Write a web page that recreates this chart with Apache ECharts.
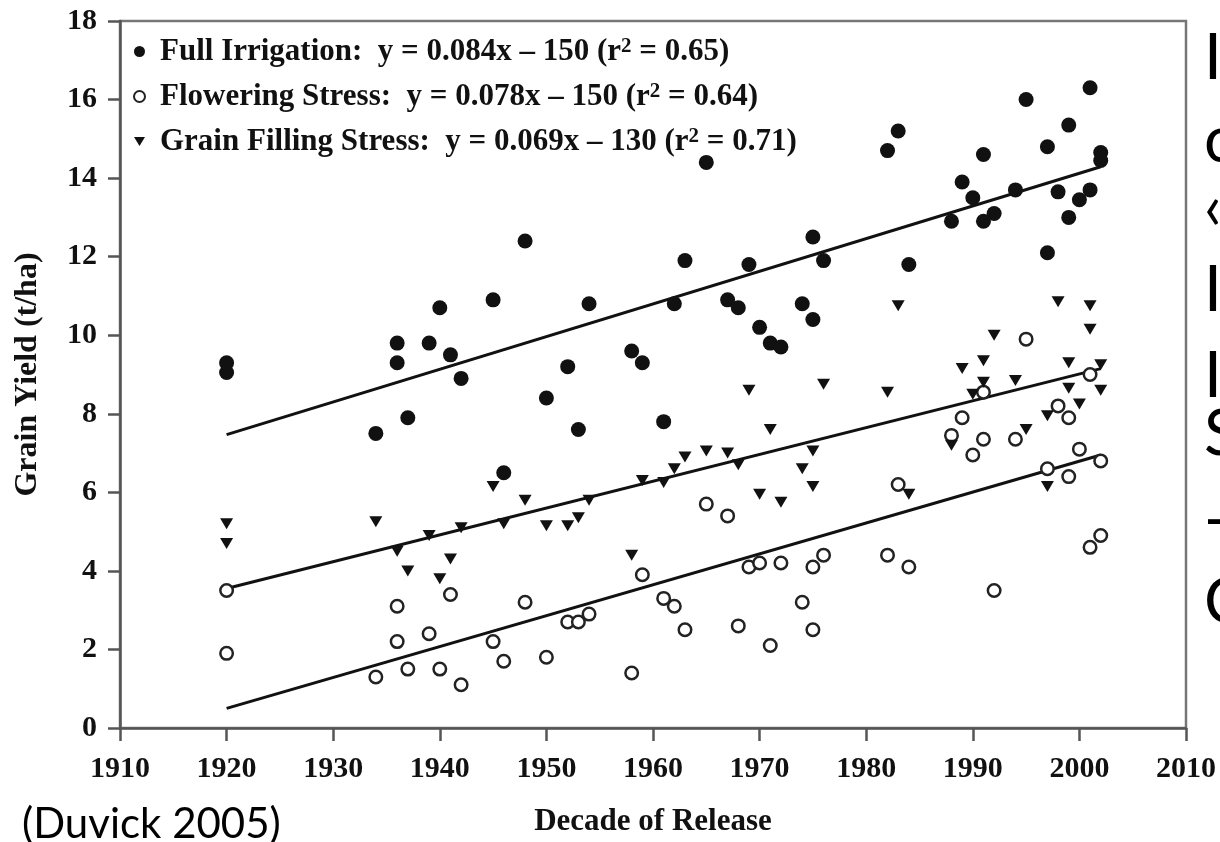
<!DOCTYPE html>
<html>
<head>
<meta charset="utf-8">
<script src="https://cdn.jsdelivr.net/npm/echarts@6/dist/echarts.min.js"></script>
<style>
  html, body { margin: 0; padding: 0; background: #fff; }
  #page { position: relative; width: 1220px; height: 842px; overflow: hidden; background: #fff; }
  #chart { position: absolute; left: 0; top: 0; width: 1220px; height: 842px; filter: blur(0.5px); }
  .note { position: absolute; font-family: Lato, sans-serif; color: #000; white-space: nowrap; }
  .cite { left: 22px; top: 801px; font-size: 42px; line-height: 42px; }
  .edge { left: 1204px; font-size: 64px; line-height: 64px; }
</style>
</head>
<body>
<div id="page">
  <div id="chart"></div>
  <div class="note cite">(Duvick 2005)</div>
  <div class="note edge" style="top:23px">I</div>
  <div class="note edge" style="top:106px">c</div>
  <div class="note edge" style="top:173px">&#8249;</div>
  <div class="note edge" style="top:255px">I</div>
  <div class="note edge" style="top:341px">I</div>
  <div class="note edge" style="top:399px">S</div>
  <div class="note edge" style="top:485px">-</div>
  <div class="note edge" style="top:567px">C</div>
</div>
<script>
// Hybrid release year and grain yield (t/ha) under three water regimes
const fullYears  = [1920, 1920, 1934, 1936, 1936, 1937, 1939, 1940, 1941, 1942, 1945, 1946, 1948, 1950, 1952, 1953, 1954, 1958, 1959, 1961, 1962, 1963, 1965, 1967, 1968, 1969, 1970, 1971, 1972, 1974, 1975, 1975, 1976, 1982, 1983, 1984, 1988, 1989, 1990, 1991, 1991, 1992, 1994, 1995, 1997, 1997, 1998, 1999, 1999, 2000, 2001, 2001, 2002, 2002];
const fullYield  = [9.3, 9.05, 7.5, 9.8, 9.3, 7.9, 9.8, 10.7, 9.5, 8.9, 10.9, 6.5, 12.4, 8.4, 9.2, 7.6, 10.8, 9.6, 9.3, 7.8, 10.8, 11.9, 14.4, 10.9, 10.7, 11.8, 10.2, 9.8, 9.7, 10.8, 12.5, 10.4, 11.9, 14.7, 15.2, 11.8, 12.9, 13.9, 13.5, 14.6, 12.9, 13.1, 13.7, 16.0, 14.8, 12.1, 13.65, 15.35, 13.0, 13.45, 16.3, 13.7, 14.65, 14.45];

const flowerYears = [1920, 1920, 1934, 1936, 1936, 1937, 1939, 1940, 1941, 1942, 1945, 1946, 1948, 1950, 1952, 1953, 1954, 1958, 1959, 1961, 1962, 1963, 1965, 1967, 1968, 1969, 1970, 1971, 1972, 1974, 1975, 1975, 1976, 1982, 1983, 1984, 1988, 1989, 1990, 1991, 1991, 1992, 1994, 1995, 1997, 1998, 1999, 1999, 2000, 2001, 2001, 2002, 2002];
const flowerYield = [3.5, 1.9, 1.3, 3.1, 2.2, 1.5, 2.4, 1.5, 3.4, 1.1, 2.2, 1.7, 3.2, 1.8, 2.7, 2.7, 2.9, 1.4, 3.9, 3.3, 3.1, 2.5, 5.7, 5.4, 2.6, 4.1, 4.2, 2.1, 4.2, 3.2, 4.1, 2.5, 4.4, 4.4, 6.2, 4.1, 7.45, 7.9, 6.95, 8.55, 7.35, 3.5, 7.35, 9.9, 6.6, 8.2, 7.9, 6.4, 7.1, 9.0, 4.6, 6.8, 4.9];

const grainYears = [1920, 1920, 1934, 1936, 1937, 1939, 1940, 1941, 1942, 1945, 1946, 1948, 1950, 1952, 1953, 1954, 1958, 1959, 1961, 1962, 1963, 1965, 1967, 1968, 1969, 1970, 1971, 1972, 1974, 1975, 1975, 1976, 1982, 1983, 1984, 1988, 1989, 1990, 1991, 1991, 1992, 1994, 1995, 1997, 1997, 1998, 1999, 1999, 2000, 2001, 2001, 2002, 2002];
const grainYield = [5.2, 4.7, 5.25, 4.5, 4.0, 4.9, 3.8, 4.3, 5.1, 6.15, 5.2, 5.8, 5.15, 5.15, 5.35, 5.8, 4.4, 6.3, 6.25, 6.6, 6.9, 7.05, 7.0, 6.7, 8.6, 5.95, 7.6, 5.75, 6.6, 7.05, 6.15, 8.75, 8.55, 10.75, 5.95, 7.2, 9.15, 8.5, 9.35, 8.8, 10.0, 8.85, 7.6, 7.95, 6.15, 10.85, 9.3, 8.65, 8.25, 10.75, 10.15, 9.25, 8.6];

// Fitted trend lines: start and end release year, and the fitted yields there
const trendYears  = [1920, 2002];
const fullTrend   = [7.47, 14.29];
const flowerTrend = [0.5, 6.95];
const grainTrend  = [3.55, 9.15];

const seriesNames = [
  'Full Irrigation:  y = 0.084x \u2013 150 (r\u00B2 = 0.65)',
  'Flowering Stress:  y = 0.078x \u2013 150 (r\u00B2 = 0.64)',
  'Grain Filling Stress:  y = 0.069x \u2013 130 (r\u00B2 = 0.71)'
];

const xMin = 1910, xMax = 2010, xStep = 10;
const yMin = 0, yMax = 18, yStep = 2;

const zip = (xs, ys) => xs.map((x, i) => [x, ys[i]]);

const serif = 'Liberation Serif';
const ink = '#111';
const axisGrey = '#555';
// downward-pointing triangle
const triDown = 'path://M0,0 L12,0 L6,10 Z';

const trendSeries = (vals) => ({
  type: 'line',
  data: zip(trendYears, vals),
  showSymbol: false,
  symbol: 'none',
  silent: true,
  z: 1,
  lineStyle: { color: ink, width: 3 }
});

const chart = echarts.init(document.getElementById('chart'), null, { renderer: 'canvas' });

chart.setOption({
  animation: false,
  backgroundColor: '#fff',
  grid: {
    left: 120, top: 21, width: 1066, height: 712,
    show: true, borderColor: '#777', borderWidth: 2.5, backgroundColor: 'transparent'
  },
  legend: {
    data: seriesNames,
    orient: 'vertical',
    left: 128, top: 31,
    itemWidth: 11, itemHeight: 11,
    itemGap: 14,
    selectedMode: false,
    formatter: name => name.replace('\u00B2', '{s|2}'),
    textStyle: {
      fontFamily: serif, fontWeight: 'bold', fontSize: 31, color: ink,
      lineHeight: 31, padding: [0, 0, 0, 10],
      rich: {
        s: { fontFamily: serif, fontWeight: 'bold', fontSize: 21, color: ink,
             lineHeight: 21, verticalAlign: 'top' }
      }
    }
  },
  xAxis: {
    type: 'value', min: xMin, max: xMax, interval: xStep,
    name: 'Decade of Release', nameLocation: 'middle', nameGap: 78,
    nameTextStyle: { fontFamily: serif, fontWeight: 'bold', fontSize: 31, color: ink },
    axisLine: { show: true, onZero: false, lineStyle: { color: axisGrey, width: 2.5 } },
    axisTick: { show: true, inside: false, length: 13, lineStyle: { color: axisGrey, width: 2.5 } },
    axisLabel: { margin: 26, fontFamily: serif, fontWeight: 'bold', fontSize: 30, color: ink,
                 formatter: v => String(v) },
    splitLine: { show: false }
  },
  yAxis: {
    type: 'value', min: yMin, max: yMax, interval: yStep,
    name: 'Grain Yield (t/ha)', nameLocation: 'middle', nameGap: 76, nameRotate: 90,
    nameTextStyle: { fontFamily: serif, fontWeight: 'bold', fontSize: 32, color: ink },
    axisLine: { show: true, onZero: false, lineStyle: { color: axisGrey, width: 2.5 } },
    axisTick: { show: true, inside: false, length: 12, lineStyle: { color: axisGrey, width: 2.5 } },
    axisLabel: { margin: 23, fontFamily: serif, fontWeight: 'bold', fontSize: 30, color: ink,
                 formatter: v => String(v) },
    splitLine: { show: false }
  },
  series: [
    trendSeries(fullTrend),
    trendSeries(flowerTrend),
    trendSeries(grainTrend),
    {
      name: seriesNames[0], type: 'scatter', z: 3,
      data: zip(fullYears, fullYield),
      symbol: 'circle', symbolSize: 15,
      itemStyle: { color: ink, opacity: 1 }
    },
    {
      name: seriesNames[1], type: 'scatter', z: 3,
      data: zip(flowerYears, flowerYield),
      symbol: 'circle', symbolSize: 12.5,
      itemStyle: { color: '#fff', borderColor: '#222', borderWidth: 2.5, opacity: 1 }
    },
    {
      name: seriesNames[2], type: 'scatter', z: 3,
      data: zip(grainYears, grainYield),
      symbol: triDown, symbolSize: [13, 11],
      itemStyle: { color: ink, opacity: 1 }
    }
  ]
});
</script>
</body>
</html>
